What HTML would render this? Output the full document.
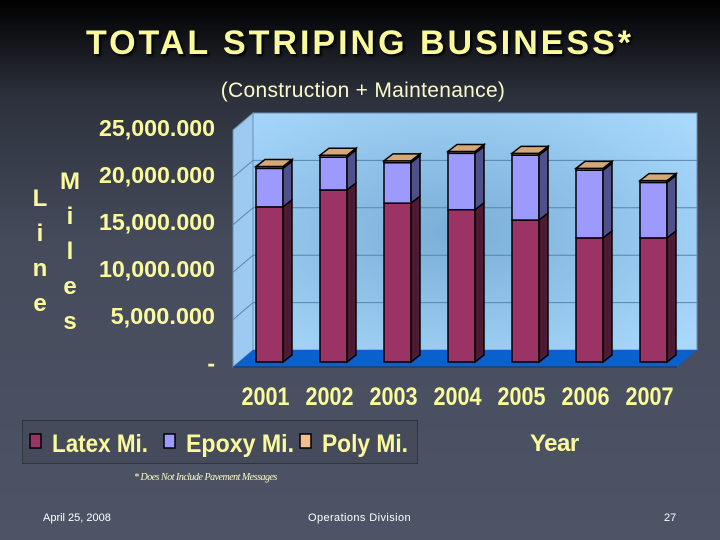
<!DOCTYPE html>
<html><head><meta charset="utf-8">
<style>
html,body{margin:0;padding:0}
body{width:720px;height:540px;overflow:hidden;background:linear-gradient(180deg,#000 0%,#2c313c 18%,#454b5b 45%,#4d5466 100%);font-family:"Liberation Sans",sans-serif;position:relative}
.t{position:absolute;white-space:nowrap}
</style></head><body>
<div class="t" style="left:22px;top:420px;width:394px;height:42px;border:1px solid #30343f;background:#454b5a"></div>
<div class="t" style="left:0;width:720px;text-align:center;top:24px;font-size:34px;font-weight:bold;color:#fafa9c;text-shadow:2px 2px 2px #000;letter-spacing:3px">TOTAL STRIPING BUSINESS*</div>
<div class="t" style="left:0;width:726px;text-align:center;top:79px;font-size:21px;color:#fafac8;letter-spacing:0.3px">(Construction + Maintenance)</div>
<svg id="chart" width="720" height="540" style="position:absolute;left:0;top:0" font-family="'Liberation Sans',sans-serif">
<defs>
<radialGradient id="wall" cx="0.45" cy="0.5" r="0.7"><stop offset="0" stop-color="#7aaed8"/><stop offset="1" stop-color="#a8d8fc"/></radialGradient>
</defs>
<g id="g"></g>
</svg>
<div class="t" style="left:530px;top:430px;font-weight:bold;font-size:24px;color:#fafa9c;letter-spacing:-0.5px">Year</div>
<div class="t" style="left:134px;top:472px;font-family:'Liberation Serif',serif;font-style:italic;font-size:10px;color:#fafac8;letter-spacing:-0.5px">* Does Not Include Pavement Messages</div>
<div class="t" style="left:43px;top:512px;font-size:11px;color:#fff">April 25, 2008</div>
<div class="t" style="left:308px;top:512px;font-size:11px;color:#fff;letter-spacing:0.4px">Operations Division</div>
<div class="t" style="left:664px;top:512px;font-size:11px;color:#fff">27</div>
<script>
const categories=["2001","2002","2003","2004","2005","2006","2007"];
const latex=[16500,18300,16900,16200,15100,13200,13200];
const epoxy=[4100,3500,4300,6000,6900,7200,5900];
const poly=[200,200,200,200,200,200,200];
const yTicks=[0,5000,10000,15000,20000,25000];
const yTickLabels=["-","5,000.000","10,000.000","15,000.000","20,000.000","25,000.000"];
const legendNames=["Latex Mi.","Epoxy Mi.","Poly Mi."];
const NS="http://www.w3.org/2000/svg";
const g=document.getElementById("g");
function mk(t,a,p){const e=document.createElementNS(NS,t);for(const k in a)e.setAttribute(k,a[k]);(p||g).appendChild(e);return e;}
const base=362,k=0.0094;
const yv=v=>base-v*k;
const xb=i=>256+i*64;
const dx=9,dy=-7,bw=27;
let e;
e=mk("rect",{x:253,y:113,width:444,height:237,fill:"url(#wall)",stroke:"#6a8fb0","stroke-width":1});


e=mk("polygon",{points:"233,130 253,113 253,350 233,367",fill:"#9ccaf0",stroke:"#6a8fb0"});


for(let j=1;j<yTicks.length-1;j++){
  const yb=350-yTicks[j]*0.00948;
  e=mk("line",{x1:253,x2:697,y1:yb,y2:yb,stroke:"#5a84aa","stroke-width":1});
  
  
  mk("line",{x1:233,x2:253,y1:yb+17,y2:yb,stroke:"#5a84aa","stroke-width":1});
}
e=mk("polygon",{points:"233,367 253,350 697,350 677,367",fill:"#0a60cc"});


mk("line",{x1:233,x2:677,y1:367,y2:367,stroke:"#2a3040"});
yTicks.forEach((t,j)=>{
  const lab=yTickLabels[j];
  const a={x:215,y:yv(t)+9,"text-anchor":"end","font-size":23,"font-weight":"bold",fill:"#fafa9c"};
  if(lab.length>1){a.textLength=lab.length*11.6;a.lengthAdjust="spacingAndGlyphs";}
  e=mk("text",a);
  e.textContent=lab;
  
  
});
const cols=[["#9b3366","#4f1a33"],["#9c99ff","#50508a"],["#f0c090","#c89f78"]];
categories.forEach((c,i)=>{
  const x=xb(i);
  let acc=0;
  [latex[i],epoxy[i],poly[i]].forEach((v,s)=>{
    const y0=yv(acc),y1=yv(acc+v);
    e=mk("rect",{x:x,y:y1,width:bw,height:y0-y1,fill:cols[s][0],stroke:"#000","stroke-width":1.5});
    
    
    mk("polygon",{points:`${x+bw},${y0} ${x+bw+dx},${y0+dy} ${x+bw+dx},${y1+dy} ${x+bw},${y1}`,fill:cols[s][1],stroke:"#000","stroke-width":1.5});
    acc+=v;
  });
  const yt=yv(acc);
  mk("polygon",{points:`${x},${yt} ${x+dx},${yt+dy} ${x+bw+dx},${yt+dy} ${x+bw},${yt}`,fill:"#d4a878",stroke:"#000","stroke-width":1.5});
  e=mk("text",{x:x+bw/2-4,y:405,"text-anchor":"middle","font-size":25,"font-weight":"bold",fill:"#fafa9c",textLength:48,lengthAdjust:"spacingAndGlyphs"});
  e.textContent=c;
  
  
});
const t1=["L","i","n","e"],t2=["M","i","l","e","s"];
t1.forEach((ch,j)=>{e=mk("text",{x:40,y:206+j*35,"text-anchor":"middle","font-size":24,"font-weight":"bold",fill:"#fafa9c"});e.textContent=ch;

});
t2.forEach((ch,j)=>{e=mk("text",{x:70,y:189+j*35,"text-anchor":"middle","font-size":24,"font-weight":"bold",fill:"#fafa9c"});e.textContent=ch;

});
const lx=[30,164,300];
const lw=[96,108,86];
legendNames.forEach((n,s)=>{
  e=mk("rect",{x:lx[s],y:434,width:11,height:14,fill:cols[s][0],stroke:"#000","stroke-width":1.5});
  
  
  e=mk("text",{x:lx[s]+22,y:452,"font-size":25,"font-weight":"bold",fill:"#fafa9c",textLength:lw[s],lengthAdjust:"spacingAndGlyphs"});
  e.textContent=n;
  
  
});
</script>
</body></html>
